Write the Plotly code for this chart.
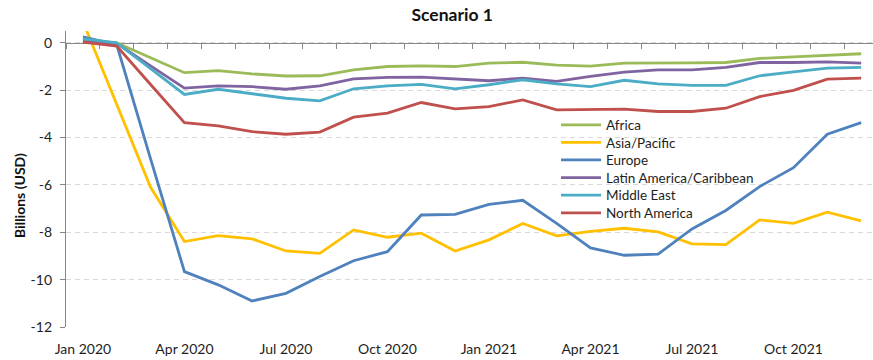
import plotly.graph_objects as go

# Monthly categories, Jan 2020 - Dec 2021
months = [f"{m} {y}" for y in (2020, 2021)
          for m in ["Jan", "Feb", "Mar", "Apr", "May", "Jun",
                    "Jul", "Aug", "Sep", "Oct", "Nov", "Dec"]]

tick_labels = ["Jan 2020", "Apr 2020", "Jul 2020", "Oct 2020",
               "Jan 2021", "Apr 2021", "Jul 2021", "Oct 2021"]
y_ticks = [-12, -10, -8, -6, -4, -2, 0]

africa = [0.12, 0.00, -0.63, -1.26, -1.17, -1.31, -1.40, -1.39, -1.14, -1.00, -0.97, -1.00,
          -0.86, -0.82, -0.94, -0.98, -0.86, -0.87, -0.85, -0.83, -0.66, -0.59, -0.52, -0.46]
asia_pacific = [0.90, -2.60, -6.10, -8.39, -8.14, -8.28, -8.79, -8.89, -7.90, -8.21, -8.04, -8.79,
                -8.32, -7.63, -8.15, -7.96, -7.83, -7.98, -8.49, -8.52, -7.48, -7.62, -7.15, -7.52]
europe = [0.25, -0.08, -4.90, -9.66, -10.22, -10.90, -10.58, -9.87, -9.20, -8.82, -7.27, -7.24,
          -6.82, -6.65, -7.62, -8.66, -8.97, -8.92, -7.86, -7.08, -6.07, -5.27, -3.86, -3.37]
latin_america = [0.05, -0.02, -0.97, -1.91, -1.82, -1.85, -1.96, -1.82, -1.52, -1.46, -1.45, -1.52,
                 -1.60, -1.49, -1.63, -1.42, -1.24, -1.14, -1.14, -1.04, -0.83, -0.83, -0.80, -0.86]
middle_east = [0.18, 0.00, -1.09, -2.18, -1.96, -2.15, -2.34, -2.45, -1.94, -1.82, -1.75, -1.94,
               -1.77, -1.56, -1.73, -1.85, -1.58, -1.73, -1.80, -1.80, -1.39, -1.23, -1.07, -1.04]
north_america = [0.03, -0.14, -1.76, -3.37, -3.51, -3.75, -3.86, -3.77, -3.14, -2.97, -2.52, -2.79,
                 -2.69, -2.41, -2.83, -2.82, -2.80, -2.90, -2.90, -2.76, -2.27, -2.01, -1.53, -1.49]

series = [
    ("Africa", africa, "#9BBB59"),
    ("Asia/Pacific", asia_pacific, "#FFC000"),
    ("Europe", europe, "#4F81BD"),
    ("Latin America/Caribbean", latin_america, "#8064A2"),
    ("Middle East", middle_east, "#4BACC6"),
    ("North America", north_america, "#C0504D"),
]

FONT = "Lato, Carlito, 'Open Sans', sans-serif"
AXIS_GRAY = "#868686"
TEXT = "#1e1e1e"
Y_MIN, Y_MAX = -12, 0.5
X_RANGE = [-0.5, 23.35]

# plot-area geometry (pixels) used to lay out the compact legend rows
WIDTH, HEIGHT = 873, 360
M_L, M_R, M_T, M_B = 66, 0, 31, 33
PLOT_W = WIDTH - M_L - M_R
PLOT_H = HEIGHT - M_T - M_B
LEGEND_LEFT_PX = 556
LEGEND_FIRST_ROW_PX = 125
LEGEND_ROW_STEP_PX = 17.6

fig = go.Figure()
legend_layouts = {}
for i, (name, values, color) in enumerate(series):
    key = "legend" if i == 0 else f"legend{i + 1}"
    fig.add_trace(go.Scatter(
        x=months, y=values, name=name, mode="lines",
        line=dict(color=color, width=2.8), legend=key,
    ))
    row_px = LEGEND_FIRST_ROW_PX + i * LEGEND_ROW_STEP_PX
    legend_layouts[key] = dict(
        x=(LEGEND_LEFT_PX - M_L) / PLOT_W,
        y=(HEIGHT - M_B - row_px) / PLOT_H,
        xanchor="left", yanchor="middle",
        bgcolor="rgba(0,0,0,0)", borderwidth=0,
        font=dict(family=FONT, size=13.5, color=TEXT),
        itemwidth=40,
    )

# invisible helper trace so the category-boundary axis at y=0 is drawn
fig.add_trace(go.Scatter(x=[0], y=[0], xaxis="x2", mode="lines",
                         showlegend=False, hoverinfo="skip",
                         line=dict(color="rgba(0,0,0,0)")))

fig.update_layout(
    width=WIDTH, height=HEIGHT,
    margin=dict(l=M_L, r=M_R, t=M_T, b=M_B),
    paper_bgcolor="white", plot_bgcolor="white",
    font=dict(family=FONT, size=14, color=TEXT),
    title=dict(text="<b>Scenario 1</b>", xref="container", x=0.518,
               y=1 - 15 / HEIGHT, yanchor="middle", xanchor="center",
               font=dict(family=FONT, size=17.5, color="#111111")),
    showlegend=True,
    xaxis=dict(
        type="category", range=X_RANGE,
        tickmode="array", tickvals=tick_labels, ticktext=tick_labels,
        showline=False, showgrid=False, zeroline=False,
        ticks="outside", ticklen=0, ticklabelstandoff=9,
        tickfont=dict(family=FONT, size=14, color=TEXT),
    ),
    xaxis2=dict(
        overlaying="x", anchor="free", side="bottom",
        position=(0 - Y_MIN) / (Y_MAX - Y_MIN),
        range=X_RANGE, tickmode="array",
        tickvals=[k - 0.5 for k in range(25)],
        showticklabels=False, ticks="outside", ticklen=5, tickwidth=1.3,
        tickcolor=AXIS_GRAY, showline=True, linecolor=AXIS_GRAY, linewidth=1.3,
        showgrid=False, zeroline=False, layer="below traces",
    ),
    yaxis=dict(
        range=[Y_MIN, Y_MAX], tickmode="array", tickvals=y_ticks,
        ticktext=[str(v) for v in y_ticks],
        showline=True, linecolor=AXIS_GRAY, linewidth=1.3,
        ticks="outside", ticklen=5, tickwidth=1.3, tickcolor=AXIS_GRAY,
        ticklabelstandoff=5,
        showgrid=True, gridcolor="#D9D9D9", gridwidth=1, griddash="5px,4px",
        zeroline=False, layer="below traces",
        tickfont=dict(family=FONT, size=14, color=TEXT),
    ),
    annotations=[dict(
        text="<b>Billions (USD)</b>", textangle=-90,
        xref="paper", yref="paper",
        x=(19 - M_L) / PLOT_W, y=(HEIGHT - M_B - 196) / PLOT_H,
        xanchor="center", yanchor="middle", showarrow=False,
        font=dict(family=FONT, size=14, color="#111111"),
    )],
    **legend_layouts,
)

fig.write_html("out.html")
